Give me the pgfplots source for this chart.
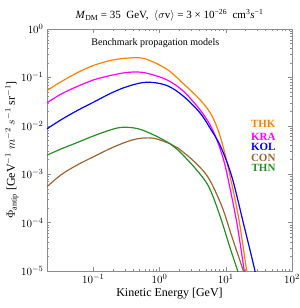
\documentclass[border=0pt]{standalone}
\usepackage{pgfplots}
\pgfplotsset{compat=1.18}
\usepackage{fontspec}
\setmainfont{Liberation Serif}
\definecolor{cTHK}{RGB}{255,128,0}
\definecolor{cKRA}{RGB}{255,0,255}
\definecolor{cKOL}{RGB}{0,0,255}
\definecolor{cCON}{RGB}{153,102,51}
\definecolor{cTHN}{RGB}{40,140,40}
\begin{document}
\begin{tikzpicture}
\begin{axis}[
  scale only axis, width=245pt, height=242pt,
  xmode=log, ymode=log,
  xmin=0.02, xmax=100, ymin=1e-5, ymax=1,
  axis line style={black!45},
  every tick/.style={black!45},
  tick align=inside,
  major tick length=4pt, minor tick length=2.2pt,
  xtick={0.1,1,10,100},
  ytick={1e-5,1e-4,1e-3,1e-2,1e-1,1},
  tick label style={font=\fontsize{11}{13}\selectfont},
  label style={font=\fontsize{12}{14}\selectfont},
  xlabel={Kinetic Energy [GeV]},
  ylabel={$\Phi_{\mathrm{antip}}$ [GeV$^{-1}$ $m^{-2}$ $s^{-1}$ sr$^{-1}$]},
  xlabel style={yshift=2pt},
  ylabel style={yshift=-4pt},
  title={\textit{M}\textsubscript{DM} = 35\ \ GeV,\ \ $\langle\sigma\mathrm{v}\rangle$ = 3 × 10\textsuperscript{−26}\ \ cm\textsuperscript{3}\textit{s}\textsuperscript{−1}},
  title style={font=\fontsize{11}{13}\selectfont, yshift=-2pt},
  clip=true,
  every axis plot/.append style={line width=1.2pt, smooth, tension=0.55},
]
\addplot[cTHK] coordinates {
(0.0200,0.0537) (0.0331,0.0822) (0.0589,0.1274) (0.1047,0.1799) (0.1905,0.2265)
(0.3388,0.2512) (0.6026,0.2427) (1.288,0.1479) (2.291,0.0741)
(4.074,0.0347) (5.754,0.01905) (7.244,0.0100) (8.710,0.00468) (10.96,0.00132)
(15.49,1.349e-4) (20.89,9.33e-6) (22.0,6.0e-6)
};
\addplot[cKRA] coordinates {
(0.0200,0.0299) (0.0331,0.0457) (0.0589,0.0661) (0.1047,0.0902) (0.1905,0.1109)
(0.3388,0.1274) (0.6026,0.1245) (1.288,0.0891) (2.291,0.0519)
(4.074,0.02153) (5.754,0.01064) (7.244,0.00537) (8.710,0.00263) (10.35,0.001072)
(14.66,1.005e-4) (19.05,9.91e-6) (20.0,6.0e-6)
};
\addplot[cKOL] coordinates {
(0.0200,0.00867) (0.0331,0.01349) (0.0589,0.0211) (0.1047,0.0316) (0.1905,0.0481)
(0.3388,0.0659) (0.6457,0.0796) (1.288,0.0681) (2.291,0.0409)
(4.074,0.01858) (5.754,0.00910) (8.318,0.00380) (12.30,9.10e-4) (18.41,9.91e-5)
(27.67,9.91e-6) (29.0,6.0e-6)
};
\addplot[cCON] coordinates {
(0.0200,5.50e-4) (0.0331,9.86e-4) (0.0589,0.001585) (0.1047,0.002355) (0.1905,0.003508)
(0.3388,0.004808) (0.5370,0.005546) (0.8511,0.005470) (1.4454,0.004246) (1.9055,0.003467)
(3.4674,0.001738) (5.4954,8.32e-4) (8.7096,2.188e-4) (12.303,5.25e-5) (18.408,1.0e-5) (19.5,6.5e-6)
};
\addplot[cTHN] coordinates {
(0.0200,0.00247) (0.0331,0.00335) (0.0589,0.00458) (0.1047,0.00631) (0.1905,0.00839)
(0.2818,0.00935) (0.4786,0.00867) (0.8511,0.00631) (1.4454,0.00425) (1.9055,0.00316)
(3.4674,0.001318) (5.4954,5.62e-4) (8.1283,1.413e-4) (11.482,3.16e-5) (15.136,1.0e-5) (16.0,7.0e-6)
};
\coordinate (sw) at (rel axis cs:0,0);
\coordinate (ne) at (rel axis cs:1,1);
\node[anchor=west, font=\fontsize{10}{12}\selectfont] at (rel axis cs:0.167,0.942) {Benchmark propagation models};
\begin{scope}[every node/.style={anchor=east, font=\fontsize{11}{13}\selectfont\bfseries}]
\node[text=cTHK] at (rel axis cs:0.947,0.607) {THK};
\node[text=cKRA] at (rel axis cs:0.947,0.554) {KRA};
\node[text=cKOL] at (rel axis cs:0.947,0.512) {KOL};
\node[text=cCON] at (rel axis cs:0.947,0.467) {CON};
\node[text=cTHN] at (rel axis cs:0.947,0.426) {THN};
\end{scope}
\end{axis}
\pgfresetboundingbox
\path[use as bounding box] ([xshift=-47pt,yshift=-37pt]sw) rectangle ([xshift=8pt,yshift=29pt]ne);
\end{tikzpicture}
\end{document}
